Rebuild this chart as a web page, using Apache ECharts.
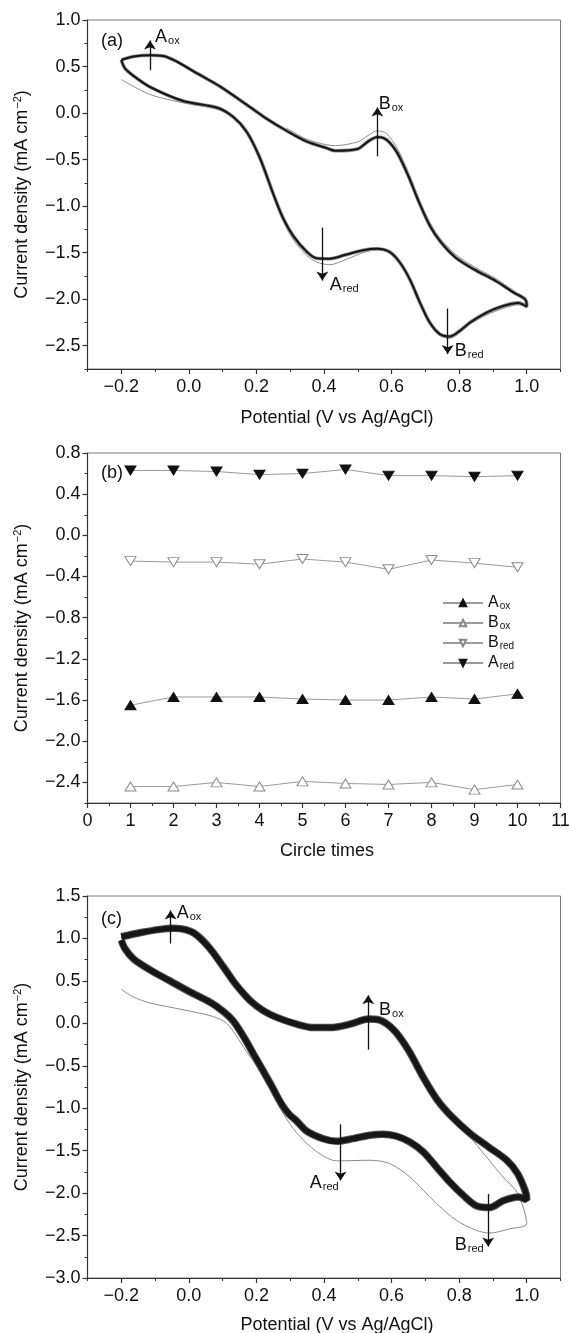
<!DOCTYPE html>
<html>
<head>
<meta charset="utf-8">
<script src="https://cdn.jsdelivr.net/npm/echarts@6/dist/echarts.min.js"></script>
<style>
html, body {margin: 0; padding: 0; background: #fff;}
#main {width: 569px; height: 1333px;}
</style>
</head>
<body>
<div id="main"></div>
<script>
// ---- panel (a): CV, 10 cycles ----
var cvA_upper = [[-0.2,0.57],[-0.164,0.607],[-0.115,0.621],[-0.076,0.614],[-0.036,0.554],[0.023,0.429],[0.092,0.286],[0.171,0.09],[0.23,-0.06],[0.289,-0.19],[0.348,-0.304],[0.407,-0.375],[0.434,-0.405],[0.499,-0.386],[0.531,-0.304],[0.558,-0.257],[0.585,-0.286],[0.617,-0.429],[0.65,-0.679],[0.682,-0.965],[0.714,-1.215],[0.747,-1.393],[0.79,-1.554],[0.844,-1.68],[0.909,-1.805],[0.962,-1.93],[0.995,-2.0],[1.0,-2.06]];
var cvA_lower = [[1.0,-2.08],[0.975,-2.04],[0.93,-2.073],[0.881,-2.144],[0.832,-2.251],[0.802,-2.34],[0.772,-2.4],[0.743,-2.376],[0.713,-2.251],[0.684,-2.037],[0.654,-1.787],[0.625,-1.608],[0.595,-1.494],[0.556,-1.458],[0.516,-1.473],[0.467,-1.519],[0.417,-1.565],[0.378,-1.56],[0.349,-1.49],[0.309,-1.32],[0.279,-1.13],[0.25,-0.87],[0.21,-0.48],[0.171,-0.2],[0.131,-0.04],[0.082,0.06],[-0.017,0.13],[-0.115,0.28],[-0.164,0.4],[-0.189,0.48],[-0.2,0.57]];
var cvA_first = [[-0.2,0.36],[-0.115,0.2],[-0.017,0.11],[0.072,0.05],[0.122,-0.01],[0.151,-0.1],[0.181,-0.27],[0.21,-0.5],[0.25,-0.9],[0.279,-1.16],[0.309,-1.36],[0.349,-1.53],[0.378,-1.6],[0.417,-1.63],[0.467,-1.57],[0.516,-1.5],[0.556,-1.47],[0.595,-1.5],[0.625,-1.61],[0.654,-1.79],[0.684,-2.04],[0.713,-2.26],[0.743,-2.39],[0.772,-2.42],[0.802,-2.36],[0.832,-2.27],[0.881,-2.17],[0.93,-2.1],[0.975,-2.06],[1.0,-2.08],[0.995,-1.99],[0.962,-1.91],[0.909,-1.78],[0.844,-1.65],[0.79,-1.52],[0.747,-1.36],[0.714,-1.18],[0.682,-0.93],[0.65,-0.64],[0.617,-0.38],[0.585,-0.22],[0.558,-0.19],[0.531,-0.24],[0.499,-0.31],[0.434,-0.35],[0.407,-0.34],[0.348,-0.28],[0.289,-0.16]];
var arrowsA = [[-0.115,0.46,0.78],[0.558,-0.465,0.06],[0.395,-1.23,-1.8],[0.766,-2.1,-2.59]];
var labelsA = [[-0.1,0.82,'A','ox'],[0.562,0.1,'B','ox'],[0.417,-1.85,'A','red'],[0.787,-2.555,'B','red']];

// ---- panel (b): peak currents vs cycle ----
var cycles = [1,2,3,4,5,6,7,8,9,10];
var Aox  = [-1.65,-1.57,-1.57,-1.57,-1.59,-1.60,-1.60,-1.57,-1.59,-1.54];
var Box  = [-2.44,-2.44,-2.40,-2.44,-2.39,-2.41,-2.42,-2.40,-2.47,-2.42];
var Bred = [-0.25,-0.26,-0.26,-0.28,-0.23,-0.26,-0.33,-0.24,-0.27,-0.31];
var Ared = [0.63,0.63,0.62,0.59,0.60,0.64,0.58,0.58,0.57,0.58];

// ---- panel (c): CV, many cycles ----
var cvC_upper = [[-0.2,1.02],[-0.145,1.067],[-0.085,1.107],[-0.046,1.119],[-0.007,1.1],[0.023,1.04],[0.062,0.883],[0.102,0.666],[0.131,0.5],[0.151,0.4],[0.181,0.27],[0.22,0.15],[0.26,0.07],[0.319,-0.01],[0.368,-0.05],[0.418,-0.05],[0.477,-0.01],[0.531,0.05],[0.563,0.04],[0.607,-0.08],[0.65,-0.316],[0.693,-0.63],[0.736,-0.906],[0.779,-1.103],[0.833,-1.299],[0.887,-1.456],[0.941,-1.613],[0.973,-1.77],[0.995,-1.967],[1.0,-2.06]];
var cvC_lower = [[1.0,-2.08],[0.975,-2.046],[0.93,-2.09],[0.891,-2.17],[0.851,-2.15],[0.812,-2.026],[0.772,-1.869],[0.733,-1.692],[0.694,-1.515],[0.654,-1.397],[0.615,-1.33],[0.575,-1.307],[0.536,-1.318],[0.486,-1.358],[0.437,-1.39],[0.398,-1.36],[0.349,-1.27],[0.319,-1.15],[0.299,-1.08],[0.279,-0.98],[0.26,-0.85],[0.24,-0.7],[0.22,-0.56],[0.191,-0.36],[0.161,-0.15],[0.131,0.03],[0.102,0.14],[0.062,0.25],[0.003,0.37],[-0.056,0.5],[-0.115,0.63],[-0.164,0.76],[-0.189,0.88],[-0.2,0.98]];
var cvC_first = [[-0.2,0.4],[-0.164,0.31],[-0.115,0.24],[-0.017,0.16],[0.072,0.08],[0.112,0.0],[0.141,-0.15],[0.17,-0.33],[0.2,-0.5],[0.24,-0.78],[0.279,-1.06],[0.319,-1.29],[0.378,-1.51],[0.437,-1.62],[0.536,-1.613],[0.595,-1.652],[0.654,-1.81],[0.733,-2.124],[0.792,-2.321],[0.851,-2.439],[0.891,-2.47],[0.95,-2.42],[1.0,-2.36],[0.973,-2.0],[0.93,-1.81],[0.832,-1.338],[0.733,-0.867],[0.693,-0.6],[0.65,-0.3]];
var arrowsC = [[-0.054,0.94,1.33],[0.531,-0.31,0.33],[0.449,-1.19,-1.85],[0.886,-2.01,-2.63]];
var labelsC = [[-0.036,1.3,'A','ox'],[0.563,0.156,'B','ox'],[0.358,-1.885,'A','red'],[0.787,-2.616,'B','red']];

// tick labels
var xTicksCV = [-0.2,0.0,0.2,0.4,0.6,0.8,1.0];
var xMinorCV = [-0.3,-0.1,0.1,0.3,0.5,0.7,0.9,1.1];
var yTicksA = [-2.5,-2.0,-1.5,-1.0,-0.5,0.0,0.5,1.0];
var yMinorA = [-2.75,-2.25,-1.75,-1.25,-0.75,-0.25,0.25,0.75];
var xTicksB = [0,1,2,3,4,5,6,7,8,9,10,11];
var xMinorB = [0.5,1.5,2.5,3.5,4.5,5.5,6.5,7.5,8.5,9.5,10.5];
var yTicksB = [-2.4,-2.0,-1.6,-1.2,-0.8,-0.4,0.0,0.4,0.8];
var yMinorB = [-2.6,-2.2,-1.8,-1.4,-1.0,-0.6,-0.2,0.2,0.6];
var yTicksC = [-3.0,-2.5,-2.0,-1.5,-1.0,-0.5,0.0,0.5,1.0,1.5];
var yMinorC = [-2.75,-2.25,-1.75,-1.25,-0.75,-0.25,0.25,0.75,1.25];

var FONT = 'Liberation Sans, Arial, sans-serif';
var INK = '#111';
var yTitle = 'Current density (mA cm{sup|−2})';
var richSup = {sup: {fontSize: 11, verticalAlign: 'top', padding: [0, 0, 8, 1], fontFamily: FONT, color: INK}};
var richSub = {s: {fontSize: 11, padding: [8, 0, 0, 1], fontFamily: FONT, color: INK}};
var richLeg = {s: {fontSize: 10, lineHeight: 12, padding: [6, 0, 0, 1], fontFamily: FONT, color: INK}};

function fmt1(v) {
    return (v < 0 ? '−' : '') + Math.abs(v).toFixed(1);
}

function mainAxis(dim, gi, min, max, ticks, f, name, gap, pad) {
    var ax = {
        type: 'value', gridIndex: gi, min: min, max: max,
        position: dim == 'x' ? 'bottom' : 'left',
        axisLine: {show: true, onZero: false, lineStyle: {color: '#333', width: 1.2}},
        axisTick: {show: true, length: 5, customValues: ticks, lineStyle: {color: '#333', width: 1.2}},
        axisLabel: {customValues: ticks, formatter: f, fontSize: 18, color: INK, fontFamily: FONT, margin: dim == 'x' ? 9 : 7},
        splitLine: {show: false},
        name: name, nameLocation: 'middle', nameGap: gap,
        nameTextStyle: {fontSize: 18, color: INK, fontFamily: FONT, rich: richSup, padding: pad || 0}
    };
    if (dim == 'y') ax.nameRotate = 90;
    return ax;
}

function minorAxis(dim, gi, min, max, ticks) {
    return {
        type: 'value', gridIndex: gi, min: min, max: max,
        position: dim == 'x' ? 'bottom' : 'left',
        axisLine: {show: false, onZero: false},
        axisTick: {show: true, length: 3, customValues: ticks, lineStyle: {color: '#333', width: 1}},
        axisLabel: {show: false, customValues: ticks},
        splitLine: {show: false}
    };
}

function pairs(xs, ys) {
    return xs.map(function (x, i) { return [x, ys[i]]; });
}

function arrowLines(list) {
    return list.map(function (a) {
        return [{coord: [a[0], a[1]]}, {coord: [a[0], a[2]]}];
    });
}

function cvSeries(ai, first, upper, lower, width, under, underColor, arrows, labels) {
    var loop = upper.concat(lower);
    return [
        {type: 'line', xAxisIndex: ai, yAxisIndex: ai, data: first, showSymbol: false, smooth: 0.3,
            lineStyle: {color: '#8c8c8c', width: 1}, z: 2},
        // grey fringe of the overlapping cycles
        {type: 'line', xAxisIndex: ai, yAxisIndex: ai, data: loop, showSymbol: false, smooth: 0.3,
            lineStyle: {color: underColor, width: under}, z: 3},
        {type: 'line', xAxisIndex: ai, yAxisIndex: ai, data: loop, showSymbol: false, smooth: 0.3,
            lineStyle: {color: '#161616', width: width}, z: 4,
            markLine: {silent: true, symbol: ['none', 'arrow'], symbolSize: 9, label: {show: false},
                lineStyle: {color: '#111', width: 1.3, type: 'solid'}, data: arrowLines(arrows)}},
        {type: 'scatter', xAxisIndex: ai, yAxisIndex: ai, data: labels, symbolSize: 0, z: 6, silent: true,
            itemStyle: {opacity: 1},
            label: {show: true, position: 'right', distance: 0, fontSize: 18, color: INK, fontFamily: FONT, rich: richSub,
                textBorderWidth: 0,
                formatter: function (p) { return p.data[2] + '{s|' + p.data[3] + '}'; }}}
    ];
}

function pointSeries(name, ys, filled, down) {
    return {
        type: 'line', name: name, xAxisIndex: 2, yAxisIndex: 2, data: pairs(cycles, ys),
        symbol: 'triangle', symbolSize: [11, 9], symbolRotate: down ? 180 : 0,
        lineStyle: {color: '#9a9a9a', width: 1},
        itemStyle: filled ? {color: '#111', borderColor: '#111', borderWidth: 1}
            : {color: '#fff', borderColor: '#8a8a8a', borderWidth: 1}
    };
}

var gridBase = {show: true, borderColor: '#7a7a7a', borderWidth: 1, containLabel: false, outerBoundsMode: 'none'};
function grid(top, height) {
    return Object.assign({left: 87.5, width: 473, top: top, height: height}, gridBase);
}

var chart = echarts.init(document.getElementById('main'), null, {renderer: 'canvas'});
chart.setOption({
    animation: false,
    backgroundColor: '#fff',
    textStyle: {fontFamily: FONT},
    title: [
        {text: '(a)', left: 96, top: 27, textStyle: {fontSize: 18, fontWeight: 'normal', color: INK, fontFamily: FONT}},
        {text: '(b)', left: 96, top: 459, textStyle: {fontSize: 18, fontWeight: 'normal', color: INK, fontFamily: FONT}},
        {text: '(c)', left: 96, top: 905, textStyle: {fontSize: 18, fontWeight: 'normal', color: INK, fontFamily: FONT}}
    ],
    grid: [grid(20, 349), grid(453, 350), grid(896, 382)],
    xAxis: [
        mainAxis('x', 0, -0.3, 1.1, xTicksCV, fmt1, 'Potential (V vs Ag/AgCl)', 40, [0, 0, 0, 26]),
        minorAxis('x', 0, -0.3, 1.1, xMinorCV),
        mainAxis('x', 1, 0, 11, xTicksB, function (v) { return String(v); }, 'Circle times', 39, [0, 0, 0, 6]),
        minorAxis('x', 1, 0, 11, xMinorB),
        mainAxis('x', 2, -0.3, 1.1, xTicksCV, fmt1, 'Potential (V vs Ag/AgCl)', 38, [0, 0, 0, 26]),
        minorAxis('x', 2, -0.3, 1.1, xMinorCV)
    ],
    yAxis: [
        mainAxis('y', 0, -2.75, 1.0, yTicksA, fmt1, yTitle, 56),
        minorAxis('y', 0, -2.75, 1.0, yMinorA),
        mainAxis('y', 1, -2.6, 0.8, yTicksB, fmt1, yTitle, 56),
        minorAxis('y', 1, -2.6, 0.8, yMinorB),
        mainAxis('y', 2, -3.0, 1.5, yTicksC, fmt1, yTitle, 56),
        minorAxis('y', 2, -3.0, 1.5, yMinorC)
    ],
    legend: {
        data: ['Aox', 'Box', 'Bred', 'Ared'],
        orient: 'vertical', left: 437, top: 589,
        itemWidth: 40, itemHeight: 8, itemGap: 2,
        textStyle: {fontSize: 16, lineHeight: 18, color: INK, fontFamily: FONT, rich: richLeg},
        formatter: function (name) { return name.charAt(0) + '{s|' + name.slice(1) + '}'; }
    },
    series: [].concat(
        cvSeries(0, cvA_first, cvA_upper, cvA_lower, 2, 3.6, '#8a8a8a', arrowsA, labelsA),
        [pointSeries('Aox', Aox, true, false),
         pointSeries('Box', Box, false, false),
         pointSeries('Bred', Bred, false, true),
         pointSeries('Ared', Ared, true, true)],
        cvSeries(4, cvC_first, cvC_upper, cvC_lower, 5.5, 7.5, '#555', arrowsC, labelsC)
    )
});
</script>
</body>
</html>
